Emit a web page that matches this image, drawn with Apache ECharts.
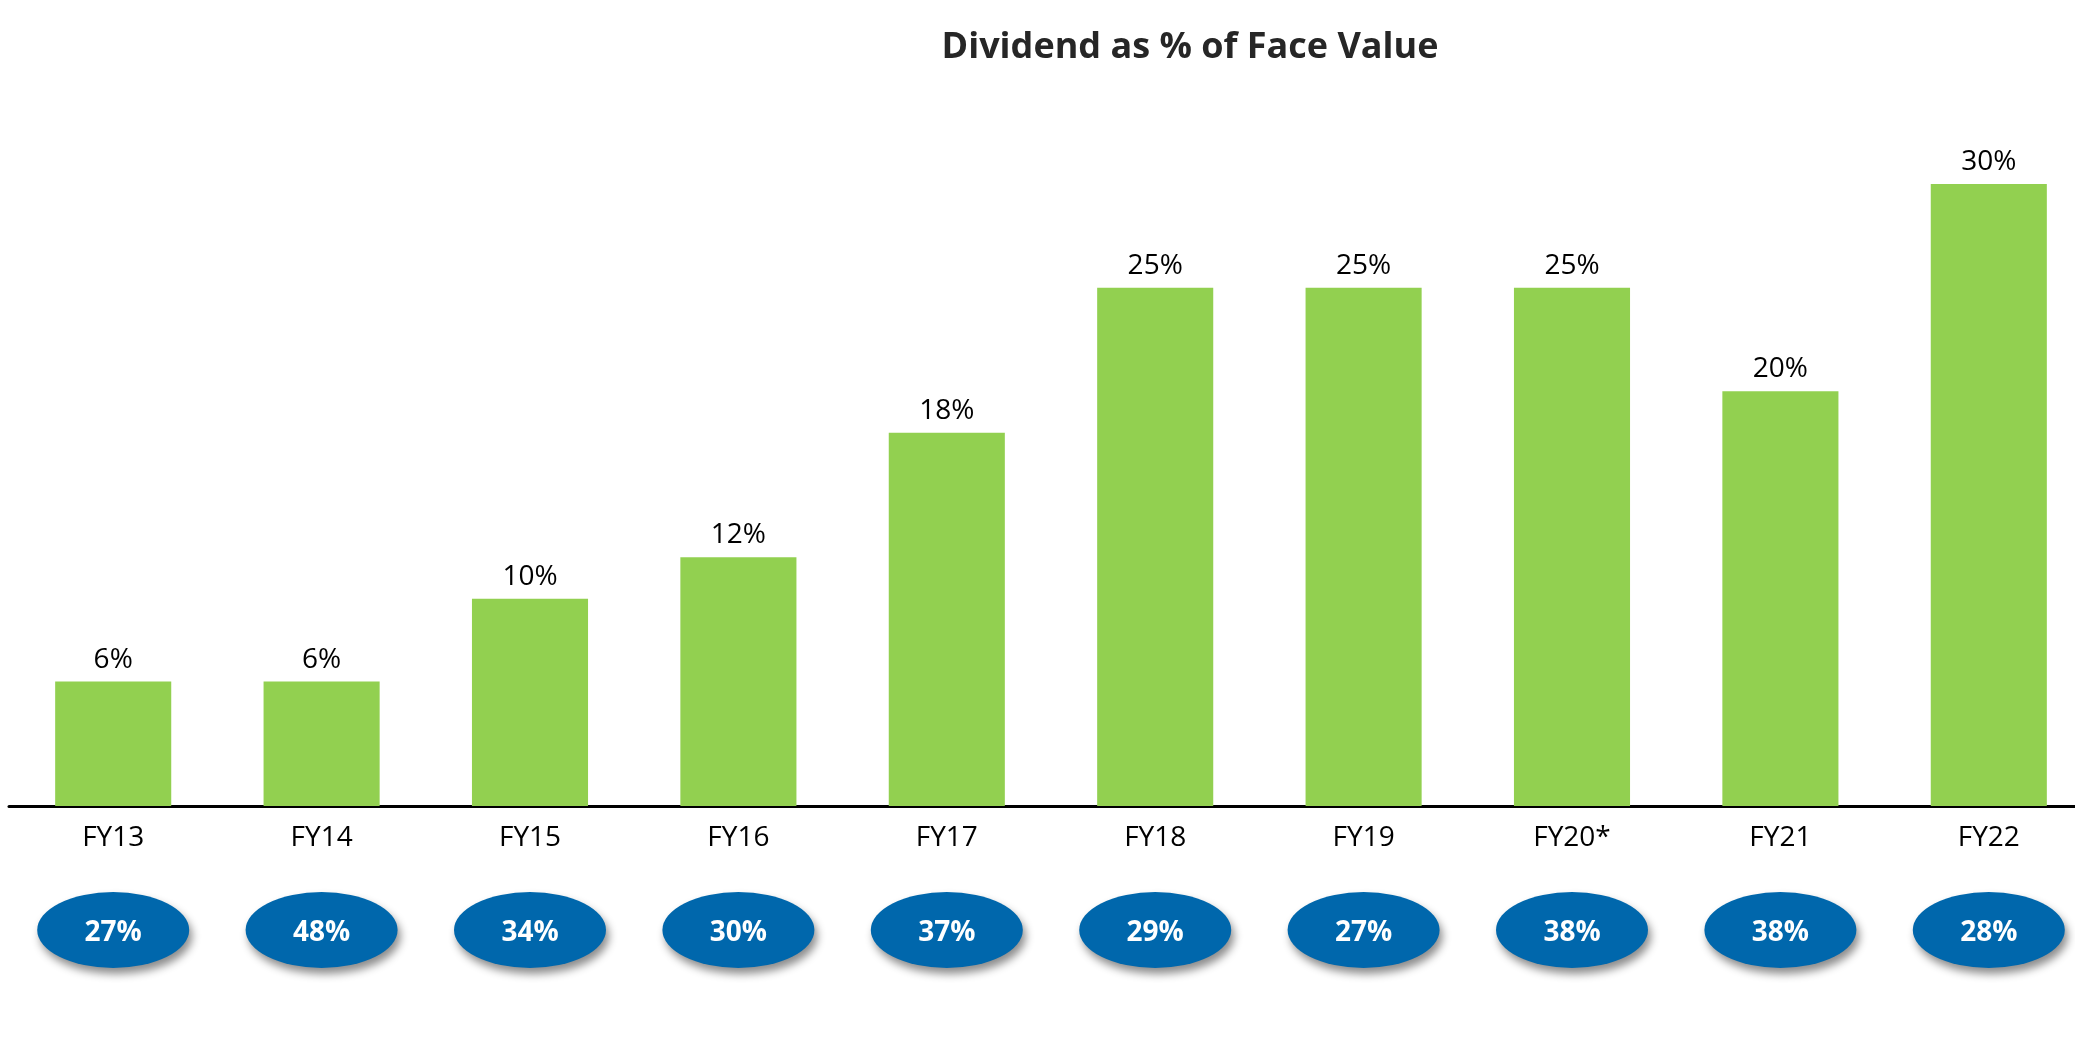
<!DOCTYPE html>
<html>
<head>
<meta charset="utf-8">
<script src="https://cdn.jsdelivr.net/npm/echarts@6/dist/echarts.min.js"></script>
<style>
html,body{margin:0;padding:0;background:#fff;overflow:hidden;width:2075px;height:1050px;}
#chart{width:2093px;height:1050px;}
</style>
</head>
<body>
<div id="chart"></div>
<script>
const categories = ['FY13','FY14','FY15','FY16','FY17','FY18','FY19','FY20*','FY21','FY22'];
const dividendPct = [6, 6, 10, 12, 18, 25, 25, 25, 20, 30];
const payoutPct = [27, 48, 34, 30, 37, 29, 27, 38, 38, 28];
const titleText = 'Dividend as % of Face Value';

const FONT = '"Open Sans", sans-serif';

const chart = echarts.init(document.getElementById('chart'), null, {renderer: 'canvas'});
chart.setOption({
  animation: false,
  backgroundColor: '#ffffff',
  title: {
    text: titleText,
    left: 1185,
    top: 25,
    textAlign: 'center',
    textStyle: {fontFamily: FONT, fontSize: 36, fontWeight: 'bold', color: '#262626'}
  },
  grid: [
    {left: 9, right: 0, top: 184, height: 622, containLabel: false},
    {left: 9, right: 0, top: 880, height: 100, containLabel: false}
  ],
  xAxis: [
    {
      type: 'category', gridIndex: 0, data: categories,
      axisLine: {show: true, lineStyle: {color: '#000', width: 3}},
      axisTick: {show: false},
      axisLabel: {fontFamily: FONT, fontSize: 28, color: '#000', margin: 18}
    },
    {
      type: 'category', gridIndex: 1, data: categories, show: false
    }
  ],
  yAxis: [
    {type: 'value', gridIndex: 0, min: 0, max: 30, show: false, splitLine: {show: false}},
    {type: 'value', gridIndex: 1, min: 0, max: 1, show: false, splitLine: {show: false}}
  ],
  series: [
    {
      type: 'bar', xAxisIndex: 0, yAxisIndex: 0,
      data: dividendPct,
      barWidth: '55.7%',
      itemStyle: {color: '#92D050'},
      label: {
        show: true, position: 'top', distance: 8,
        formatter: p => p.value + '%',
        fontFamily: FONT, fontSize: 28, color: '#000'
      }
    },
    {
      type: 'scatter', xAxisIndex: 1, yAxisIndex: 1, clip: false,
      data: payoutPct.map((v, i) => [categories[i], 0.5]),
      symbol: 'circle',
      symbolSize: [152, 76],
      itemStyle: {
        color: '#0067AC', opacity: 1,
        shadowColor: 'rgba(0,0,0,0.45)', shadowBlur: 8,
        shadowOffsetX: 3, shadowOffsetY: 6
      },
      emphasis: {disabled: true},
      label: {
        show: true, position: 'inside', offset: [0, 3],
        formatter: p => payoutPct[p.dataIndex] + '%',
        fontFamily: FONT, fontSize: 28, fontWeight: 'bold', color: '#fff'
      }
    }
  ]
});
</script>
</body>
</html>
